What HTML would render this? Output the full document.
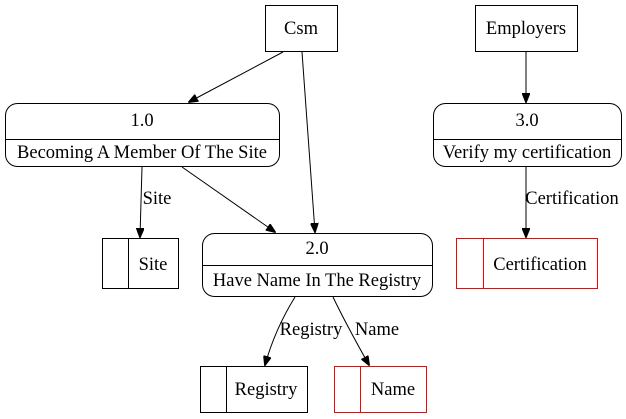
<!DOCTYPE html>
<html><head><meta charset="utf-8"><style>
html,body{margin:0;padding:0;background:#fff;}
svg{display:block;}
text{font-family:"Liberation Serif",serif;font-size:18.5px;fill:#000;}
</style></head><body>
<svg width="626" height="419" viewBox="0 0 626 419" xmlns="http://www.w3.org/2000/svg">
<defs>
<marker id="a" markerWidth="10" markerHeight="8" refX="9" refY="4" orient="auto" markerUnits="userSpaceOnUse">
<path d="M0,0 L10,4 L0,8 Z" fill="#000" stroke="#000"/>
</marker>
</defs>
<g fill="none" stroke="#000" stroke-width="1">
<rect x="265.5" y="5.5" width="72" height="46"/>
<rect x="475.5" y="5.5" width="102" height="46"/>
<rect x="5.5" y="103.5" width="274" height="63" rx="12"/>
<line x1="5.5" y1="139.5" x2="279.5" y2="139.5"/>
<rect x="433.5" y="103.5" width="188" height="63" rx="12"/>
<line x1="433.5" y1="139.5" x2="621.5" y2="139.5"/>
<rect x="202.5" y="233.5" width="230" height="63" rx="12"/>
<line x1="202.5" y1="265.5" x2="432.5" y2="265.5"/>
<rect x="102.5" y="238.5" width="76" height="50"/>
<line x1="128.5" y1="238.5" x2="128.5" y2="288.5"/>
<rect x="200.5" y="366.5" width="107" height="46"/>
<line x1="226.5" y1="366.5" x2="226.5" y2="412.5"/>
</g>
<g fill="none" stroke="#f00" stroke-width="1">
<rect x="456.5" y="238.5" width="141" height="50"/>
<line x1="483.5" y1="238.5" x2="483.5" y2="288.5"/>
<rect x="334.5" y="366.5" width="92" height="46"/>
<line x1="360.5" y1="366.5" x2="360.5" y2="412.5"/>
</g>
<g fill="none" stroke="#000" stroke-width="1" marker-end="url(#a)">
<path d="M283,52 L189,102"/>
<path d="M302,52 L315,232"/>
<path d="M526,52 L526,102"/>
<path d="M142,167 L140,237"/>
<path d="M182,167 L275,232"/>
<path d="M526,167 L526,237"/>
<path d="M295,297 C282,318 272,340 265,365"/>
<path d="M333,297 C343,318 355,340 369,365"/>
</g>
<g text-anchor="middle">
<text x="301" y="34">Csm</text>
<text x="526" y="34">Employers</text>
<text x="142" y="126">1.0</text>
<text x="142" y="158">Becoming A Member Of The Site</text>
<text x="527" y="126">3.0</text>
<text x="527" y="158">Verify my certification</text>
<text x="317" y="254">2.0</text>
<text x="317" y="286">Have Name In The Registry</text>
<text x="153" y="270">Site</text>
<text x="540" y="270">Certification</text>
<text x="266" y="395">Registry</text>
<text x="393" y="395">Name</text>
<text x="157" y="204">Site</text>
<text x="572" y="204">Certification</text>
<text x="311" y="335">Registry</text>
<text x="377" y="335">Name</text>
</g>
</svg>
</body></html>
